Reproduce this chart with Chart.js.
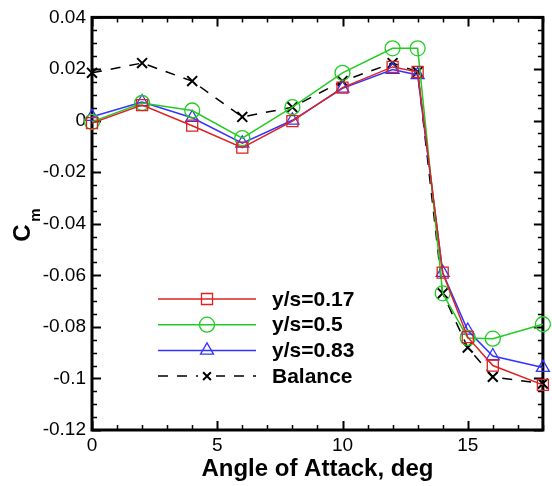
<!DOCTYPE html>
<html>
<head>
<meta charset="utf-8">
<script src="https://cdn.jsdelivr.net/npm/chart.js@4.4.0/dist/chart.umd.min.js"></script>
<style>
  html, body { margin: 0; padding: 0; background: #fff; }
  #cmChart { display: block; }
</style>
</head>
<body>
<canvas id="cmChart" width="552" height="486"></canvas>
<script>
var angles = [0, 2, 4, 6, 8, 10, 12, 13, 14, 15, 16, 18];
var cmY017 = [-0.001, 0.006, -0.002, -0.0105, -0.0002, 0.0128, 0.0208, 0.0189, -0.059, -0.084, -0.095, -0.1025];
var cmY05 = [-0.0005, 0.0068, 0.0039, -0.0068, 0.0052, 0.0185, 0.028, 0.028, -0.067, -0.0843, -0.0846, -0.079];
var cmY083 = [0.0015, 0.0072, 0.0011, -0.0088, 0.0001, 0.0125, 0.0198, 0.0177, -0.059, -0.0814, -0.0913, -0.0958];
var cmBalance = [0.0185, 0.0223, 0.0153, 0.0014, 0.0052, 0.0153, 0.0223, 0.0189, -0.067, -0.088, -0.0994, -0.102];
var seriesLabels = ['y/s=0.17', 'y/s=0.5', 'y/s=0.83', 'Balance'];
var xTicks = [0, 5, 10, 15];
var yTicks = [-0.12, -0.1, -0.08, -0.06, -0.04, -0.02, 0, 0.02, 0.04];

function toPoints(vals) {
    return angles.map(function (a, i) { return { x: a, y: vals[i] }; });
}

function makeSet(label, vals, color, style, radius, dash) {
    return {
        label: label,
        data: toPoints(vals),
        borderColor: color,
        backgroundColor: 'rgba(0,0,0,0)',
        borderWidth: 1.5,
        borderDash: dash || [],
        pointStyle: style,
        pointRadius: radius,
        pointBorderColor: color,
        pointBorderWidth: 1.3,
        pointBackgroundColor: 'rgba(0,0,0,0)',
        showLine: true,
        clip: false,
        tension: 0
    };
}

var datasets = [
    makeSet(seriesLabels[0], cmY017, '#dd2222', 'rect', 7.8),
    makeSet(seriesLabels[1], cmY05, '#22cc22', 'circle', 7.5),
    makeSet(seriesLabels[2], cmY083, '#3333ff', 'triangle', 7.5),
    makeSet(seriesLabels[3], cmBalance, '#000000', 'crossRot', 7, [10, 9])
];
datasets[3].pointBorderWidth = 2;

// frame + inward ticks on all four sides
var framePlugin = {
    id: 'frame',
    beforeDatasetsDraw: function (chart) {
        var ctx = chart.ctx, a = chart.chartArea;
        var sx = chart.scales.x, sy = chart.scales.y;
        ctx.save();
        ctx.strokeStyle = '#000';
        for (var d = 0; d <= 18; d++) {
            var px = Math.round(sx.getPixelForValue(d)) + 0.5;
            var len = (d % 5 === 0) ? 9 : 5;
            ctx.lineWidth = (d % 5 === 0) ? 2 : 1.5;
            ctx.beginPath();
            ctx.moveTo(px, a.bottom); ctx.lineTo(px, a.bottom - len);
            ctx.moveTo(px, a.top); ctx.lineTo(px, a.top + len);
            ctx.stroke();
        }
        for (var k = -24; k <= 8; k++) {
            var v = k * 0.005;
            var py = Math.round(sy.getPixelForValue(v)) + 0.5;
            var major = (k % 4 === 0);
            var l2 = major ? 9 : 5;
            ctx.lineWidth = major ? 2 : 1.5;
            ctx.beginPath();
            ctx.moveTo(a.left, py); ctx.lineTo(a.left + l2, py);
            ctx.moveTo(a.right, py); ctx.lineTo(a.right - l2, py);
            ctx.stroke();
        }
        ctx.lineWidth = 3;
        ctx.strokeRect(a.left, a.top, a.right - a.left, a.bottom - a.top);
        ctx.restore();
    },
    afterDraw: function (chart) {
        var ctx = chart.ctx;
        // y title C_m
        ctx.save();
        ctx.fillStyle = '#000';
        ctx.translate(23, 233);
        ctx.rotate(-Math.PI / 2);
        ctx.textAlign = 'center';
        ctx.textBaseline = 'middle';
        ctx.font = 'bold 24px "Liberation Sans", Arial, sans-serif';
        ctx.fillText('C', 0, 0);
        ctx.font = 'bold 15px "Liberation Sans", Arial, sans-serif';
        ctx.fillText('m', 18, 13);
        ctx.restore();

        // legend inside plot
        ctx.save();
        var x0 = 158, x1 = 256, xm = 207;
        chart.data.datasets.forEach(function (ds, i) {
            var y = 299 + i * 25.7;
            ctx.strokeStyle = ds.borderColor;
            ctx.lineWidth = 1.5;
            ctx.setLineDash(ds.borderDash);
            ctx.beginPath();
            ctx.moveTo(x0, y); ctx.lineTo(x1, y);
            ctx.stroke();
            ctx.setLineDash([]);
            if (ds.borderDash.length) {
                ctx.fillStyle = '#fff';
                ctx.fillRect(xm - 9, y - 6, 18, 12);
            }
            ctx.lineWidth = ds.pointBorderWidth;
            ctx.strokeStyle = ds.pointBorderColor;
            ctx.fillStyle = 'rgba(0,0,0,0)';
            Chart.helpers.drawPoint(ctx, {
                pointStyle: ds.pointStyle,
                radius: ds.pointStyle === 'crossRot' ? 5.5 : ds.pointRadius,
                borderWidth: ds.pointBorderWidth,
                rotation: 0
            }, xm, y);
            ctx.fillStyle = '#000';
            ctx.font = 'bold 21px "Liberation Sans", Arial, sans-serif';
            ctx.textAlign = 'left';
            ctx.textBaseline = 'middle';
            ctx.fillText(ds.label, 272, y + 1);
        });
        ctx.restore();
    }
};

var fmt = function (v) { return String(parseFloat(Number(v).toFixed(4))); };

new Chart(document.getElementById('cmChart').getContext('2d'), {
    type: 'scatter',
    data: { datasets: datasets },
    options: {
        responsive: false,
        animation: false,
        devicePixelRatio: 1,
        layout: { padding: { left: 0, right: 4, top: 16, bottom: 0 } },
        plugins: { legend: { display: false }, tooltip: { enabled: false } },
        scales: {
            x: {
                type: 'linear',
                min: 0, max: 18,
                afterBuildTicks: function (s) { s.ticks = xTicks.map(function (v) { return { value: v }; }); },
                afterFit: function (s) { s.height = 56; },
                grid: { display: false, drawTicks: false },
                border: { display: false },
                ticks: {
                    color: '#000', padding: 4, maxRotation: 0,
                    font: { family: '"Liberation Sans", Arial, sans-serif', size: 19 },
                    callback: fmt
                },
                title: {
                    display: true, text: 'Angle of Attack, deg', color: '#000',
                    font: { family: '"Liberation Sans", Arial, sans-serif', size: 24, weight: 'bold' },
                    padding: { top: 0, bottom: 2 }
                }
            },
            y: {
                type: 'linear',
                min: -0.12, max: 0.04,
                afterBuildTicks: function (s) { s.ticks = yTicks.map(function (v) { return { value: v }; }); },
                afterFit: function (s) { s.width = 92; },
                grid: { display: false, drawTicks: false },
                border: { display: false },
                ticks: {
                    color: '#000', padding: 6,
                    font: { family: '"Liberation Sans", Arial, sans-serif', size: 19 },
                    callback: fmt
                }
            }
        }
    },
    plugins: [framePlugin]
});
</script>
</body>
</html>
